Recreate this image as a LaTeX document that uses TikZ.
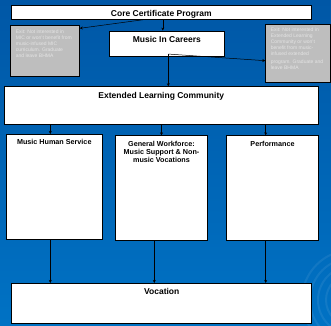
\documentclass[tikz,border=0pt]{standalone}
\usepackage{fontspec}
\setmainfont{Liberation Sans}
\usetikzlibrary{arrows.meta}
\definecolor{slidetop}{HTML}{0057A6}
\definecolor{slidebot}{HTML}{0072C4}
\definecolor{exitfill}{HTML}{BEBEBE}
\definecolor{exittext}{HTML}{E4E4E4}
\tikzset{
  box/.style={draw=black, fill=white, line width=0.8pt, inner sep=0pt},
  exitbox/.style={draw=black, fill=exitfill, line width=0.8pt, inner sep=0pt},
  title/.style={anchor=north, inner sep=0pt, yshift=-5.5pt, align=center},
  big/.style={font=\fontsize{8.5}{10}\selectfont\bfseries},
  small/.style={font=\fontsize{7.2}{8.3}\selectfont\bfseries},
  exitnote/.style={anchor=north west, inner sep=0pt, align=left, text=exittext, font=\fontsize{5}{5.8}\selectfont},
  arr/.style={-{Stealth[length=3pt,width=3pt]}, line width=0.5pt, black}
}
\begin{document}
\begin{tikzpicture}[x=1pt, y=-1pt]
\useasboundingbox (0,0) rectangle (331,325);
\shade[top color=slidetop, bottom color=slidebot] (0,0) rectangle (331,325);
\begin{scope}
  \clip (0,0) rectangle (331,325);
  \foreach \r in {18,26,...,50}
    \draw[white, opacity=0.07, line width=2pt] (352,300) circle (\r pt);
\end{scope}

\node[box, minimum width=300.5pt, minimum height=14pt, label={[title,big]north:Core Certificate Program}] (core) at (161.3,12.3) {};
\node[exitbox, minimum width=69.3pt, minimum height=50.6pt, label={[exitnote,xshift=6pt,yshift=-4.8pt]north west:{Exit: Not interested in\\MIC or won't benefit from\\music-infused MIC\\curriculum. Graduate\\and leave BHMA}}] (exitL) at (44.7,51) {};
\node[box, minimum width=115pt, minimum height=25.7pt, label={[title,big]north:Music In Careers}] (mic) at (166.8,43.8) {};
\node[exitbox, minimum width=64.8pt, minimum height=58pt, label={[exitnote,xshift=5.3pt,yshift=-4.5pt]north west:{Exit: Not interested in\\Extended Learning\\Community or won't\\benefit from music-\\infused extended\\[2.4pt]program. Graduate and\\leave BHMA}}] (exitR) at (298.1,53) {};
\node[box, minimum width=314pt, minimum height=37.3pt, label={[title,big]north:Extended Learning Community}] (elc) at (161.3,105.3) {};
\node[box, minimum width=96pt, minimum height=104.7pt, label={[title,small]north:Music Human Service}] (mhs) at (54.3,186.7) {};
\node[box, minimum width=91.6pt, minimum height=104.6pt, label={[title,small]north:{General Workforce:\\Music Support \& Non-\\music Vocations}}] (gw) at (161.5,188) {};
\node[box, minimum width=91.6pt, minimum height=104.6pt, label={[title,small]north:Performance}] (perf) at (272.5,188) {};
\node[box, minimum width=300pt, minimum height=40pt, label={[title,big]north:Vocation}] (voc) at (161.7,303.3) {};

% connectors
\draw[arr] ([xshift=1.5pt]core.south) -- ([xshift=1.5pt]core.south |- mic.north);
\draw[arr] ([xshift=-18pt]core.south) -- ([yshift=-3pt]exitL.north east);
\coordinate (split) at ([xshift=1.5pt,yshift=3pt]mic.south);
\draw[arr] (split) -- ([yshift=-7.7pt]exitR.west);
\draw[arr] (split) -- (split |- elc.north);
\draw[arr] ([xshift=-4pt]mhs.north |- elc.south) -- ([xshift=-4pt]mhs.north);
\draw[arr] (gw.north |- elc.south) -- (gw.north);
\draw[arr] ([xshift=-6.8pt]perf.north |- elc.south) -- ([xshift=-6.8pt]perf.north);
\draw[arr] ([xshift=-4pt]mhs.south) -- ([xshift=-4pt]mhs.south |- voc.north);
\draw[arr] ([xshift=-7.2pt]gw.south) -- ([xshift=-7.2pt]gw.south |- voc.north);
\draw[arr] ([xshift=-6.8pt]perf.south) -- ([xshift=-6.8pt]perf.south |- voc.north);
\end{tikzpicture}
\end{document}
